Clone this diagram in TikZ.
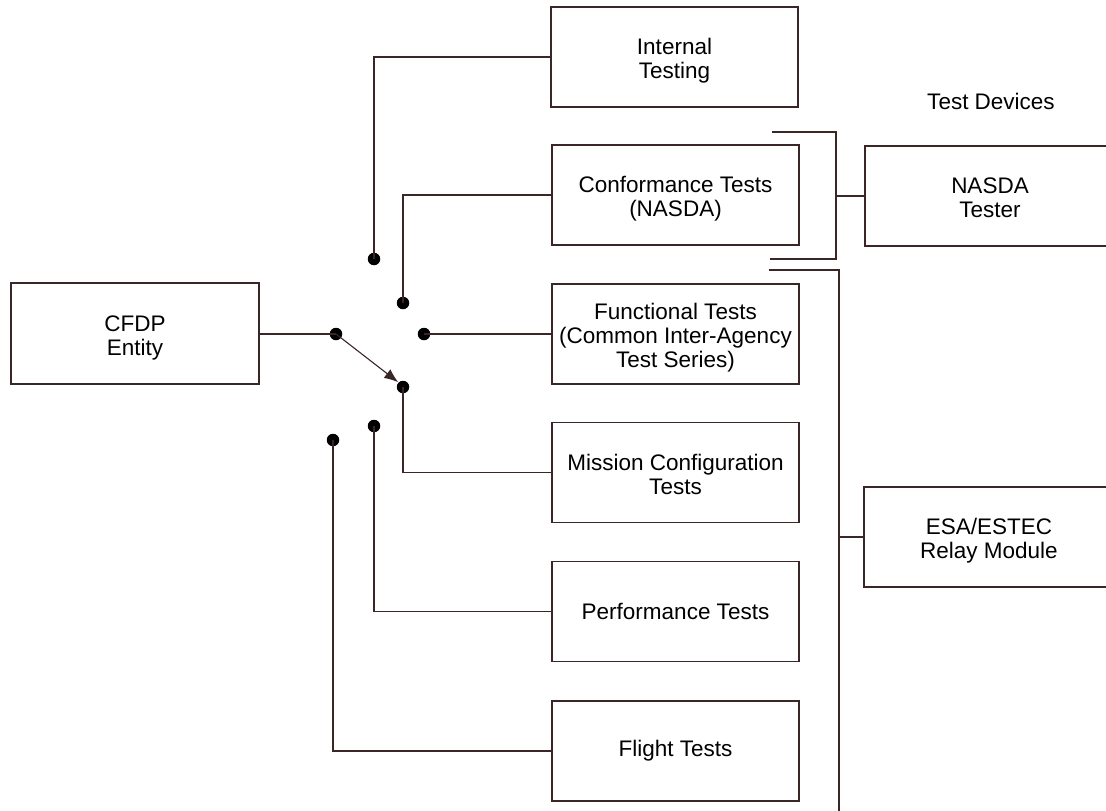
\documentclass[tikz,border=0pt]{standalone}
\usepackage{fontspec}
\setmainfont{Liberation Sans}
\usetikzlibrary{arrows.meta}
\definecolor{ln}{RGB}{58,38,38}
\newcommand{\mlines}[1]{\raisebox{-5pt}[\height][\depth]{\begin{tabular}{@{}c@{}}#1\end{tabular}}}
\begin{document}
\begin{tikzpicture}[x=1pt,y=-1pt,
  line width=1.1pt,
  box/.style={draw=ln,line width=1.1pt,rectangle,minimum width=247pt,minimum height=100pt,align=center,inner sep=0pt,font=\fontsize{22.5}{24}\selectfont},
  dot/.style={circle,fill=black,minimum size=12.5pt,inner sep=0pt},
  wire/.style={draw=ln,line width=1.1pt},
  lbl/.style={font=\fontsize{22.5}{24}\selectfont,inner sep=0pt}]
\useasboundingbox (0,0) rectangle (1106,811);
% boxes
\node[box,minimum width=248pt,minimum height=101pt] (cfdp) at (135,333.5) {\mlines{CFDP\\Entity}};
\node[box] (it) at (674.5,57) {\mlines{Internal\\Testing}};
\node[box] (ct) at (675.5,195) {\mlines{Conformance Tests\\(NASDA)}};
\node[box] (ft) at (675.5,334) {\mlines{Functional Tests\\(Common Inter-Agency\\Test Series)}};
\node[box] (mc) at (675.5,472.5) {\mlines{Mission Configuration\\Tests}};
\node[box] (pt) at (675.5,611.5) {Performance Tests};
\node[box] (fl) at (675.5,751) {Flight Tests};
\node[box,minimum width=250pt] (nt) at (990,196) {\mlines{NASDA\\Tester}};
\node[box,minimum width=250pt] (esa) at (989,537) {\mlines{ESA/ESTEC\\Relay Module}};
\node[lbl] (td) at (991,101) {Test Devices};
% switch contacts
\node[dot] (cin) at (336,334) {};
\node[dot] (d1) at (374,259) {};
\node[dot] (d2) at (403,303) {};
\node[dot] (d3) at (424,334) {};
\node[dot] (d4) at (403,387) {};
\node[dot] (d5) at (374,426) {};
\node[dot] (d6) at (333,440) {};
% connectors
\draw[wire] (cfdp.east |- cin) -- (cin.center);
\draw[wire] (d1.center) |- (it.west);
\draw[wire] (d2.center) |- (ct.west);
\draw[wire] (d3.center) -- (ft.west);
\draw[wire] (d4.center) |- (mc.west);
\draw[wire] (d5.center) |- (pt.west);
\draw[wire] (d6.center) |- (fl.west);
\draw[wire,-{Latex[length=14pt,width=11pt]}] (cin.center) -- (d4.north west);
% brackets
\coordinate (b1a) at (772,132);
\coordinate (b1b) at (836,132);
\coordinate (b1c) at (836,259);
\coordinate (b1d) at (770,259);
\coordinate (b1m) at (836,196);
\draw[wire] (b1a) -- (b1b) -- (b1c) -- (b1d);
\draw[wire] (b1m) -- (nt.west);
\coordinate (b2a) at (769,270);
\coordinate (b2b) at (839,270);
\coordinate (b2c) at (839,811);
\coordinate (b2m) at (839,537);
\draw[wire] (b2a) -- (b2b) -- (b2c);
\draw[wire] (b2m) -- (esa.west);
\end{tikzpicture}
\end{document}
